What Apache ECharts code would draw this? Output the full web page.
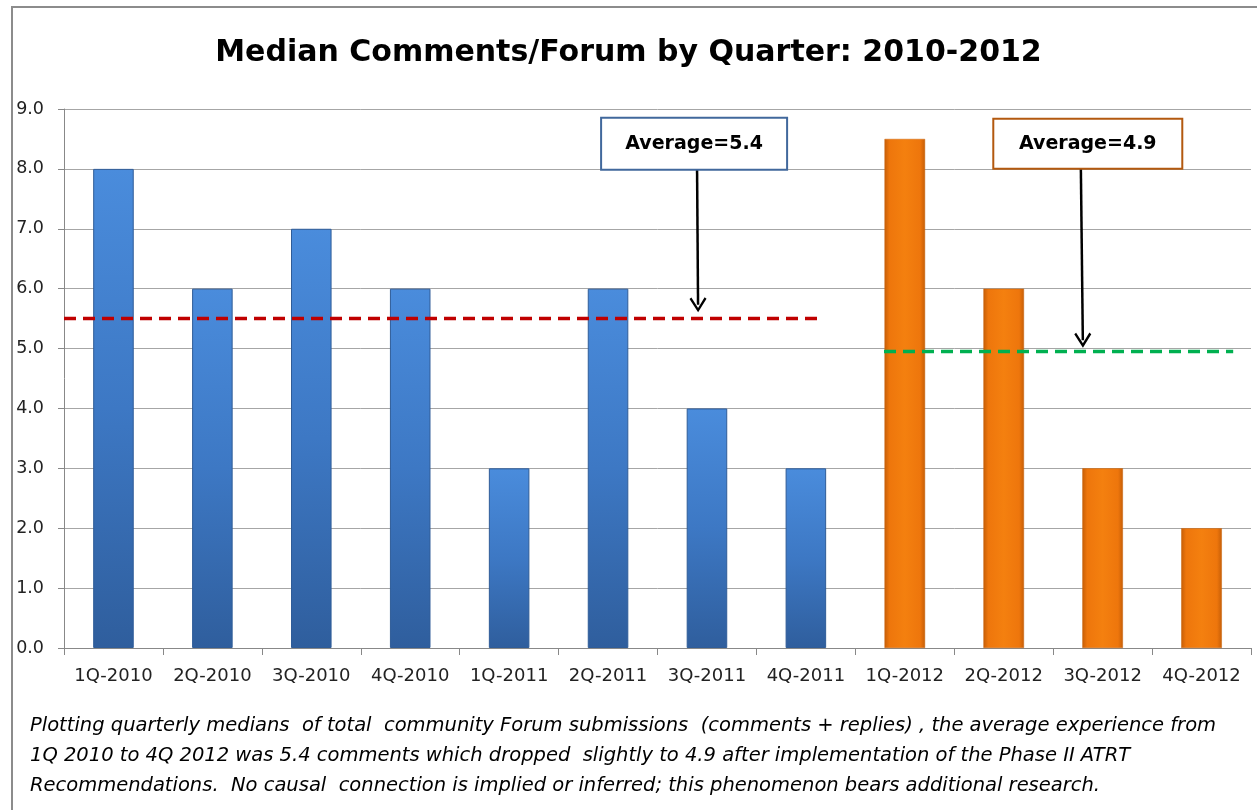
<!DOCTYPE html>
<html>
<head>
<meta charset="utf-8">
<script src="https://cdn.jsdelivr.net/npm/echarts@6/dist/echarts.min.js"></script>
<style>
  html, body { margin: 0; padding: 0; background: #fff; }
  #chart { width: 1257px; height: 810px; }
</style>
</head>
<body>
<div id="chart"></div>
<script>
// quarters and medians
var quarters = ['1Q-2010', '2Q-2010', '3Q-2010', '4Q-2010', '1Q-2011', '2Q-2011',
  '3Q-2011', '4Q-2011', '1Q-2012', '2Q-2012', '3Q-2012', '4Q-2012']
var before2012 = [8, 6, 7, 6, 3, 6, 4, 3, '-', '-', '-', '-']
var in2012 = ['-', '-', '-', '-', '-', '-', '-', '-', 8.5, 6, 3, 2]
var avgLabels = ['Average=5.4', 'Average=4.9']
var avgLevels = [5.5, 4.95]
var yTicks = { min: 0, max: 9, interval: 1 }

var caption = 'Plotting quarterly medians  of total  community Forum submissions  (comments + replies) , the average experience from\n' +
  '1Q 2010 to 4Q 2012 was 5.4 comments which dropped  slightly to 4.9 after implementation of the Phase II ATRT\n' +
  'Recommendations.  No causal  connection is implied or inferred; this phenomenon bears additional research.'

var FONT = '"DejaVu Sans", sans-serif'

function barColor (light, mid, dark) {
  return new echarts.graphic.LinearGradient(0, 0, 1, 0, [
    { offset: 0, color: dark },
    { offset: 0.12, color: mid },
    { offset: 0.5, color: light },
    { offset: 0.88, color: mid },
    { offset: 1, color: dark }
  ])
}

var chart = echarts.init(document.getElementById('chart'))

var boxLabel = {
  show: true,
  position: 'inside',
  fontFamily: FONT,
  fontSize: 19,
  fontWeight: 'bold',
  color: '#000',
  backgroundColor: '#fff',
  borderWidth: 2,
  align: 'center',
  verticalAlign: 'middle',
  lineHeight: 50
}

var option = {
  animation: false,
  backgroundColor: '#fff',
  title: {
    text: 'Median Comments/Forum by Quarter: 2010-2012',
    left: 'center',
    top: 33,
    textStyle: { fontFamily: FONT, fontSize: 30, fontWeight: 'bold', color: '#000' }
  },
  graphic: [
    {
      type: 'polyline',
      shape: { points: [[12, 810], [12, 7], [1257, 7]] },
      style: { stroke: '#8c8c8c', lineWidth: 2, fill: null }
    },
    {
      type: 'text',
      left: 30,
      top: 711,
      style: {
        text: caption,
        fontFamily: FONT,
        fontStyle: 'italic',
        fontSize: 19.5,
        lineHeight: 30,
        fill: '#000'
      }
    }
  ],
  grid: { left: 64, right: 6, top: 109, bottom: 162 },
  xAxis: [
    {
      type: 'category',
      data: quarters,
      axisLine: { lineStyle: { color: '#888', width: 1 } },
      axisTick: { show: true, length: 7, lineStyle: { color: '#888' } },
      axisLabel: { interval: 0, fontFamily: FONT, fontSize: 18, color: '#222', margin: 19 }
    },
    {
      // continuous scale across the categories, for the average lines and notes
      type: 'value', min: 0, max: 12, show: false
    }
  ],
  yAxis: {
    type: 'value',
    min: yTicks.min,
    max: yTicks.max,
    interval: yTicks.interval,
    axisLine: { show: true, lineStyle: { color: '#888', width: 1 } },
    axisTick: { show: true, length: 6, lineStyle: { color: '#888' } },
    splitLine: { lineStyle: { color: '#a6a6a6', width: 1 } },
    axisLabel: {
      fontFamily: FONT,
      fontSize: 17.5,
      color: '#222',
      margin: 20,
      formatter: function (v) { return v.toFixed(1) }
    }
  },
  series: [
    {
      name: '2010-2011',
      type: 'bar',
      data: before2012,
      barWidth: '41%',
      barGap: '-100%',
      itemStyle: {
        // blue bars get darker towards the base
        color: new echarts.graphic.LinearGradient(0, 0, 0, 1, [
          { offset: 0, color: '#4a8cdc' },
          { offset: 0.5, color: '#3d78c4' },
          { offset: 1, color: '#2f5e9d' }
        ]),
        borderColor: '#2f5c98',
        borderWidth: 1
      },
      z: 3
    },
    {
      name: '2012',
      type: 'bar',
      data: in2012,
      barWidth: '41%',
      itemStyle: {
        color: barColor('#f4800f', '#ee760c', '#c65e07'),
        borderColor: '#c86008',
        borderWidth: 0.5
      },
      z: 3
    },
    {
      name: 'avg 2010-2011',
      type: 'line',
      xAxisIndex: 1,
      data: [[0, avgLevels[0]], [7.65, avgLevels[0]]],
      symbol: 'none',
      lineStyle: { color: '#c00000', width: 3.5, type: [12, 7] },
      z: 5
    },
    {
      name: 'avg 2012',
      type: 'line',
      xAxisIndex: 1,
      data: [[8.29, avgLevels[1]], [11.82, avgLevels[1]]],
      symbol: 'none',
      lineStyle: { color: '#00b050', width: 3.5, type: [12, 7] },
      z: 5,
      markLine: {
        silent: true,
        symbol: ['none', 'path://M5,0 L10,8.6 L8.9,9.6 L5,2.8 L1.1,9.6 L0,8.6 Z'],
        symbolSize: [17, 15],
        label: { show: false },
        lineStyle: { color: '#000', width: 2.5, type: 'solid' },
        data: [
          [{ coord: [6.40, 7.98] }, { coord: [6.41, 5.73] }],
          [{ coord: [10.28, 8.0] }, { coord: [10.30, 5.14] }]
        ]
      },
      markPoint: {
        silent: true,
        symbol: 'circle',
        symbolSize: 1,
        itemStyle: { color: 'rgba(0,0,0,0)' },
        data: [
          {
            coord: [6.37, 8.42],
            label: Object.assign({}, boxLabel, {
              formatter: avgLabels[0], width: 184, height: 50, borderColor: '#41689c'
            })
          },
          {
            coord: [10.35, 8.42],
            label: Object.assign({}, boxLabel, {
              formatter: avgLabels[1], width: 187, height: 48, borderColor: '#b3590f'
            })
          }
        ]
      }
    }
  ]
}

chart.setOption(option)
</script>
</body>
</html>
